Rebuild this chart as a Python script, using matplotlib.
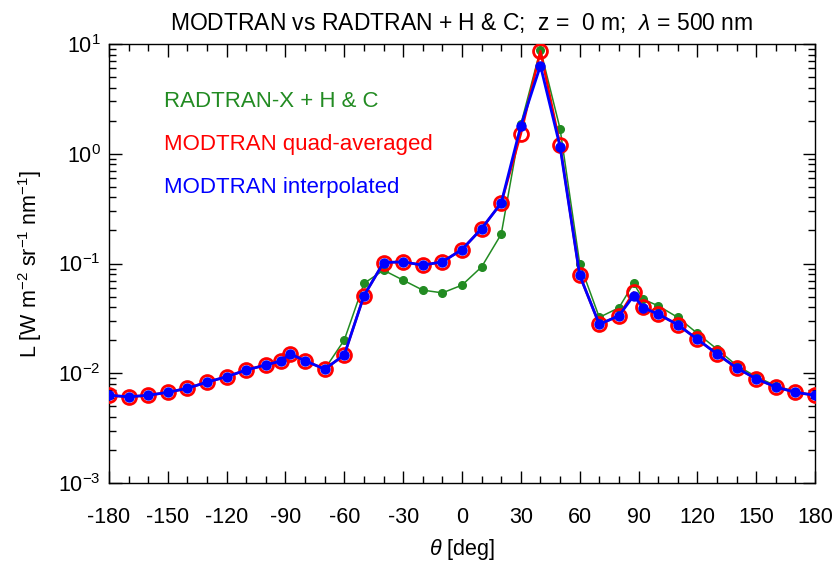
import numpy as np
import matplotlib
matplotlib.use("Agg")
from matplotlib import pyplot as plt
from matplotlib.ticker import LogLocator, MultipleLocator

plt.rcParams['font.family'] = ['Liberation Sans', 'DejaVu Sans']
plt.rcParams['mathtext.fontset'] = 'custom'
plt.rcParams['mathtext.rm'] = 'Liberation Sans'
plt.rcParams['mathtext.it'] = 'Liberation Sans:italic'

# viewing angle [deg]
theta = [-180, -170, -160, -150, -140, -130, -120, -110, -100, -92.5, -87.5, -80, -70,
         -60, -50, -40, -30, -20, -10, 0, 10, 20, 30, 40, 50, 60, 70, 80, 87.5, 92.5,
         100, 110, 120, 130, 140, 150, 160, 170, 180]

# radiance L [W m-2 sr-1 nm-1]
radtran = [0.0063, 0.0061, 0.0063, 0.0067, 0.0073, 0.0083, 0.0093, 0.0107, 0.0119, 0.0129,
           0.0150, 0.0130, 0.0109, 0.0201, 0.0658, 0.0869, 0.0705, 0.0572, 0.0540, 0.0635,
           0.0931, 0.185, 1.85, 8.9, 1.69, 0.100, 0.0323, 0.0395, 0.0658, 0.0471, 0.0412,
           0.0323, 0.0231, 0.0166, 0.0118, 0.0093, 0.0077, 0.0068, 0.0063]
modtran_quad = [0.0063, 0.0061, 0.0063, 0.0067, 0.0073, 0.0083, 0.0093, 0.0107, 0.0119, 0.0129,
                0.0150, 0.0130, 0.0109, 0.0147, 0.0508, 0.102, 0.1035, 0.0966, 0.1035, 0.134,
                0.208, 0.356, 1.52, 8.6, 1.20, 0.0783, 0.0279, 0.0334, 0.0545, 0.0400, 0.0346,
                0.0277, 0.0204, 0.0150, 0.0112, 0.0089, 0.0075, 0.0067, 0.0063]
modtran_interp = [0.0063, 0.0061, 0.0063, 0.0067, 0.0073, 0.0083, 0.0093, 0.0107, 0.0119, 0.0129,
                  0.0150, 0.0130, 0.0109, 0.0147, 0.0508, 0.102, 0.1035, 0.0966, 0.1035, 0.134,
                  0.208, 0.356, 1.80, 6.35, 1.16, 0.0783, 0.0279, 0.0334, 0.0508, 0.0395, 0.0346,
                  0.0277, 0.0204, 0.0150, 0.0112, 0.0089, 0.0075, 0.0067, 0.0063]

xticks = [-180, -150, -120, -90, -60, -30, 0, 30, 60, 90, 120, 150, 180]

fig = plt.figure(figsize=(8.38, 5.64), dpi=100)
ax = fig.add_axes([0.130, 0.1436, 0.8426, 0.7784])

ax.plot(theta, radtran, '-o', color='#228B22', lw=1.1, ms=5.5, zorder=2)
ax.plot(theta, modtran_quad, '-o', color='red', lw=1.8, ms=10, mfc='none', mew=2.0, zorder=3)
ax.plot(theta, modtran_interp, '-o', color='blue', lw=2.0, ms=6.5, zorder=4)

ax.set_yscale('log')
ax.set_xlim(-180, 180)
ax.set_ylim(1e-3, 1e1)
ax.set_xticks(xticks)
ax.set_xticklabels([str(t) for t in xticks])
ax.xaxis.set_minor_locator(MultipleLocator(10))
ax.yaxis.set_major_locator(LogLocator(base=10, numticks=10))
ax.yaxis.set_minor_locator(LogLocator(base=10, subs=np.arange(2, 10), numticks=20))
ax.yaxis.set_minor_formatter(plt.NullFormatter())
ax.tick_params(which='both', direction='in', top=True, right=True, width=1.0)
ax.tick_params(which='major', length=9, labelsize=15.5)
ax.tick_params(which='minor', length=5)
ax.tick_params(axis='x', pad=17)
ax.tick_params(axis='y', pad=6)
for s in ax.spines.values():
    s.set_linewidth(1.0)

ax.set_title(r'MODTRAN vs RADTRAN + H & C;  z =  0 m;  $\lambda$ = 500 nm', fontsize=16.5, pad=10)
ax.set_xlabel(r'$\theta$ [deg]', fontsize=15.5, labelpad=7)
ax.set_ylabel(r'L [W m$^{-2}$ sr$^{-1}$ nm$^{-1}$]', fontsize=15.5, labelpad=10)

ax.text(0.078, 0.868, 'RADTRAN-X + H & C', color='#228B22', fontsize=16,
        transform=ax.transAxes, va='center')
ax.text(0.078, 0.770, 'MODTRAN quad-averaged', color='red', fontsize=16,
        transform=ax.transAxes, va='center')
ax.text(0.078, 0.672, 'MODTRAN interpolated', color='blue', fontsize=16,
        transform=ax.transAxes, va='center')

fig.savefig('out.png', dpi=100)
